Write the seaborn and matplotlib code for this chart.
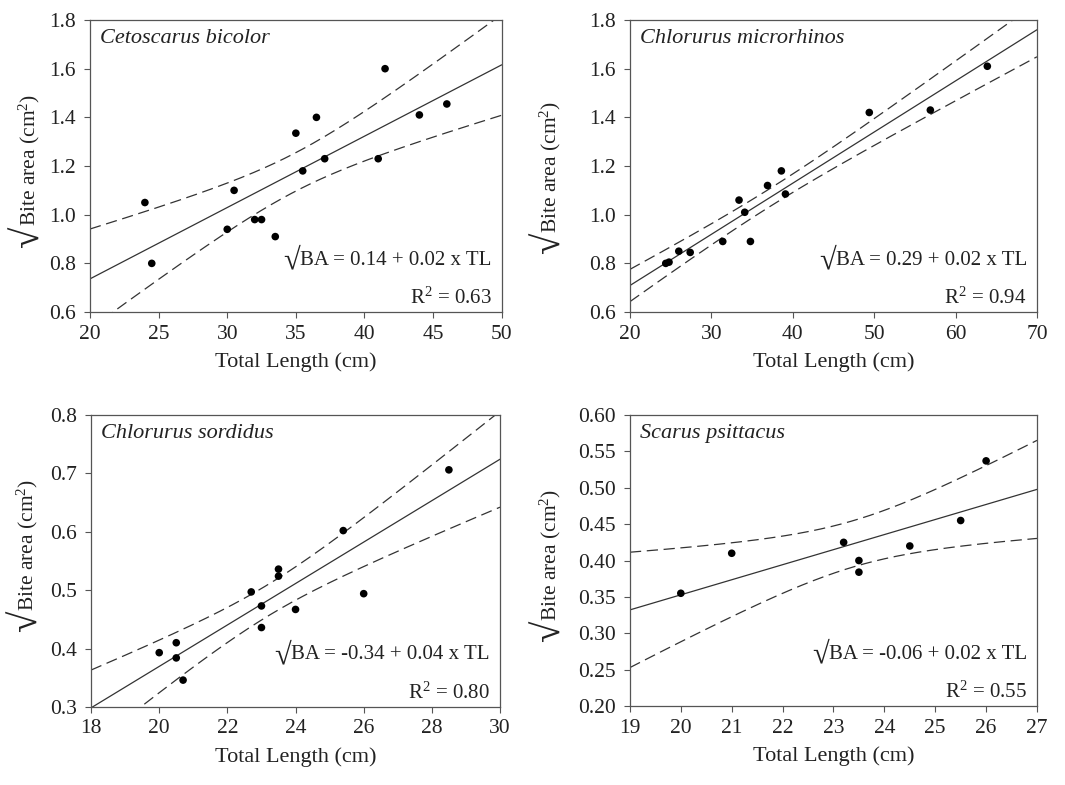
import numpy as np
import pandas as pd
import matplotlib
matplotlib.use("Agg")
import matplotlib.pyplot as plt
import seaborn as sns
from matplotlib.ticker import FormatStrFormatter, MultipleLocator

# ---- data: total length (cm) and square-rooted bite area per species ----
species = ["Cetoscarus bicolor", "Chlorurus microrhinos",
           "Chlorurus sordidus", "Scarus psittacus"]

bicolor_tl = [24.0, 24.5, 30.0, 30.5, 32.0, 32.5, 33.5, 35.0, 35.5, 36.5,
              37.1, 41.0, 41.5, 44.0, 46.0]
bicolor_ba = [1.05, 0.80, 0.94, 1.10, 0.98, 0.98, 0.91, 1.335, 1.18, 1.40,
              1.23, 1.23, 1.60, 1.41, 1.455]

microrhinos_tl = [24.4, 24.8, 26.0, 27.4, 31.4, 33.4, 34.1, 34.8, 36.9, 38.6,
                  39.1, 49.4, 56.9, 63.9]
microrhinos_ba = [0.80, 0.805, 0.85, 0.845, 0.89, 1.06, 1.01, 0.89, 1.12, 1.18,
                  1.085, 1.42, 1.43, 1.61]

sordidus_tl = [20.0, 20.5, 20.5, 20.7, 22.7, 23.0, 23.0, 23.5, 23.5, 24.0,
               25.4, 26.0, 28.5]
sordidus_ba = [0.393, 0.41, 0.384, 0.346, 0.497, 0.473, 0.436, 0.536, 0.524,
               0.467, 0.602, 0.494, 0.706]

psittacus_tl = [20.0, 21.0, 23.2, 23.5, 23.5, 24.5, 25.5, 26.0]
psittacus_ba = [0.355, 0.41, 0.425, 0.40, 0.384, 0.42, 0.455, 0.537]

equations = ["BA = 0.14 + 0.02 x TL", "BA = 0.29 + 0.02 x TL",
             "BA = -0.34 + 0.04 x TL", "BA = -0.06 + 0.02 x TL"]
r_squared = ["0.63", "0.94", "0.80", "0.55"]

x_limits = [(20, 50), (20, 70), (18, 30), (19, 27)]
x_steps = [5, 10, 2, 1]
y_limits = [(0.6, 1.8), (0.6, 1.8), (0.3, 0.8), (0.20, 0.60)]
y_steps = [0.2, 0.2, 0.1, 0.05]
y_formats = ["%.1f", "%.1f", "%.1f", "%.2f"]

x_label = "Total Length (cm)"
y_label = "Bite area (cm$^{2}$)"

lengths = [bicolor_tl, microrhinos_tl, sordidus_tl, psittacus_tl]
bites = [bicolor_ba, microrhinos_ba, sordidus_ba, psittacus_ba]

# ---- style ----
sns.set_style("ticks")
plt.rcParams["font.family"] = ["Liberation Serif", "DejaVu Serif"]
plt.rcParams["mathtext.fontset"] = "custom"
plt.rcParams["mathtext.rm"] = "Liberation Serif"
plt.rcParams["mathtext.it"] = "Liberation Serif:italic"
plt.rcParams["mathtext.bf"] = "Liberation Serif:bold"

INK = "#222222"
FRAME = "#555555"


def t_quantile(dof, z=1.959964):
    """Two-sided 95% Student t quantile (Cornish-Fisher expansion)."""
    g1 = (z**3 + z) / 4
    g2 = (5 * z**5 + 16 * z**3 + 3 * z) / 96
    g3 = (3 * z**7 + 19 * z**5 + 17 * z**3 - 15 * z) / 384
    g4 = (79 * z**9 + 776 * z**7 + 1482 * z**5 - 1920 * z**3 - 945 * z) / 92160
    return z + g1 / dof + g2 / dof**2 + g3 / dof**3 + g4 / dof**4


def fit_with_band(tl, ba, xlim):
    x = np.asarray(tl, float)
    y = np.asarray(ba, float)
    slope, intercept = np.polyfit(x, y, 1)
    n = len(x)
    resid = y - (intercept + slope * x)
    s = np.sqrt(np.sum(resid**2) / (n - 2))
    sxx = np.sum((x - x.mean())**2)
    xs = np.linspace(xlim[0], xlim[1], 300)
    fit = intercept + slope * xs
    half = t_quantile(n - 2) * s * np.sqrt(1 / n + (xs - x.mean())**2 / sxx)
    return pd.DataFrame({"tl": xs, "fit": fit, "lo": fit - half, "hi": fit + half})


fig = plt.figure(figsize=(10.65, 7.85), dpi=100)
rects = [
    (0.0845, 0.6025, 0.3866, 0.372),
    (0.5915, 0.6025, 0.3822, 0.372),
    (0.0855, 0.0994, 0.3840, 0.372),
    (0.5915, 0.1006, 0.3822, 0.3707),
]
ylabel_pos = [(-0.117, 0.52), (-0.165, 0.497), (-0.125, 0.555), (-0.165, 0.519)]

for i, rect in enumerate(rects):
    ax = fig.add_axes(rect)
    xlim, ylim = x_limits[i], y_limits[i]
    pts = pd.DataFrame({"tl": lengths[i], "ba": bites[i]})
    band = fit_with_band(lengths[i], bites[i], xlim)

    sns.lineplot(data=band, x="tl", y="fit", color="#333333", lw=0.9,
                 estimator=None, sort=False, ax=ax)
    for col in ("lo", "hi"):
        sns.lineplot(data=band, x="tl", y=col, color="#333333", lw=0.9,
                     linestyle=(0, (9, 4.5)), estimator=None, sort=False, ax=ax)
    sns.scatterplot(data=pts, x="tl", y="ba", color="black", s=30,
                    edgecolor="none", zorder=3, ax=ax)

    ax.set_xlim(*xlim)
    ax.set_ylim(*ylim)
    ax.xaxis.set_major_locator(MultipleLocator(x_steps[i]))
    ax.yaxis.set_major_locator(MultipleLocator(y_steps[i]))
    ax.yaxis.set_major_formatter(FormatStrFormatter(y_formats[i]))
    ax.tick_params(direction="out", length=4, width=0.8, color=FRAME,
                   labelsize=15.5, labelcolor=INK)
    ax.tick_params(axis="x", pad=5)
    ax.tick_params(axis="y", pad=6)
    for sp in ax.spines.values():
        sp.set_color(FRAME)
        sp.set_linewidth(0.9)

    ax.set_xlabel(x_label, fontsize=16, color=INK, labelpad=6)
    ylab = ax.set_ylabel(y_label, fontsize=15.5, color=INK)
    ax.yaxis.set_label_coords(*ylabel_pos[i])
    ax.annotate("√", xy=(0.5, 0.0), xycoords=ylab, rotation=90,
                ha="center", va="top", fontsize=28, color=INK)

    ax.text(0.024, 0.938, species[i], transform=ax.transAxes, style="italic",
            ha="left", va="center", fontsize=16, color=INK)
    eq = ax.text(0.975, 0.178, equations[i], transform=ax.transAxes,
                 ha="right", va="center", fontsize=15, color=INK)
    ax.annotate("√", xy=(0.0, 0.45), xycoords=eq, ha="right", va="center",
                fontsize=22, color=INK)
    ax.text(0.975, 0.048, "R$^{2}$ = " + r_squared[i], transform=ax.transAxes,
            ha="right", va="center", fontsize=15, color=INK)

fig.savefig("out.png", dpi=100)
